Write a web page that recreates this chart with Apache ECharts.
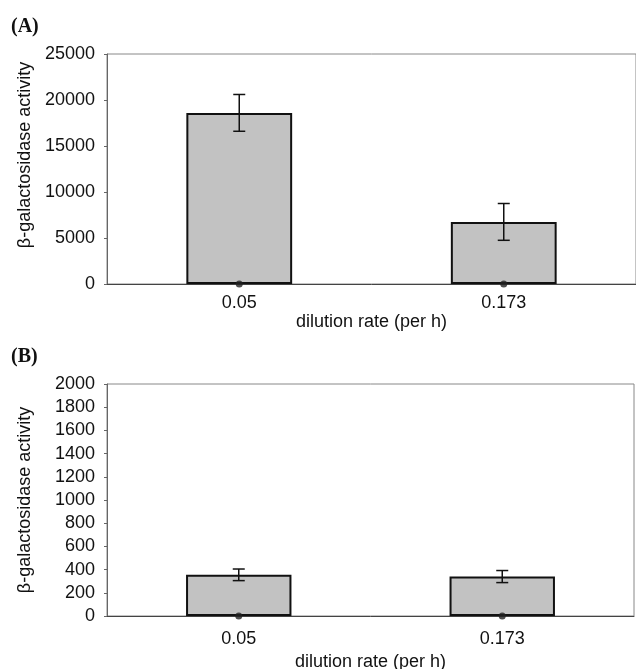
<!DOCTYPE html>
<html>
<head>
<meta charset="utf-8">
<script src="https://cdn.jsdelivr.net/npm/echarts@6/dist/echarts.min.js"></script>
<style>
  html, body { margin: 0; padding: 0; background: #fff; }
  #main { width: 636px; height: 669px; }
</style>
</head>
<body>
<div id="main"></div>
<script>
// dilution rates (per h)
var categories = ['0.05', '0.173'];
// panel A
var valuesA = [18600, 6750];
var errorsA = [2000, 2000];
// panel B
var valuesB = [355, 340];
var errorsB = [50, 52];
var zeroBase = [0, 0];

var chart = echarts.init(document.getElementById('main'));
var font = 'Liberation Sans, Arial, sans-serif';
var serif = 'Liberation Serif, Times New Roman, serif';

// 误差棒
function errorBar(values, errors) {
    return function (params, api) {
        var i = api.value(0);
        var v = values[i], e = errors[i];
        var top = api.coord([i, v + e]);
        var bot = api.coord([i, v - e]);
        var w = 6;
        var st = { stroke: '#111', lineWidth: 1.5 };
        return {
            type: 'group',
            children: [
                { type: 'line', shape: { x1: top[0], y1: top[1], x2: bot[0], y2: bot[1] }, style: st },
                { type: 'line', shape: { x1: top[0] - w, y1: top[1], x2: top[0] + w, y2: top[1] }, style: st },
                { type: 'line', shape: { x1: bot[0] - w, y1: bot[1], x2: bot[0] + w, y2: bot[1] }, style: st }
            ]
        };
    };
}

function xAxis(idx, labelMargin, nameGap) {
    return {
        type: 'category', gridIndex: idx, data: categories,
        name: 'dilution rate (per h)', nameLocation: 'middle', nameGap: nameGap,
        nameTextStyle: { fontFamily: font, fontSize: 18, color: '#111' },
        axisLine: { lineStyle: { color: '#444', width: 1 } },
        axisTick: { show: false },
        axisLabel: { fontFamily: font, fontSize: 18, color: '#111', margin: labelMargin }
    };
}
function yAxis(idx, max, interval, namePad) {
    return {
        type: 'value', gridIndex: idx, min: 0, max: max, interval: interval,
        name: 'β-galactosidase activity', nameLocation: 'middle', nameGap: 73,
        nameTextStyle: { fontFamily: font, fontSize: 18, color: '#111', padding: namePad },
        axisLine: { show: true, lineStyle: { color: '#666', width: 1 } },
        axisTick: { show: true, length: 3, lineStyle: { color: '#666' } },
        splitLine: { show: false },
        axisLabel: { fontFamily: font, fontSize: 18, color: '#111', margin: 12,
            formatter: function (v) { return String(v); } }
    };
}

var barStyle = { color: '#c2c2c2', borderColor: '#111', borderWidth: 2 };

chart.setOption({
    backgroundColor: '#fff',
    animation: false,
    title: [
        { text: '(A)', left: 6, top: 12, textStyle: { fontFamily: serif, fontSize: 20, fontWeight: 'bold', color: '#111' } },
        { text: '(B)', left: 6, top: 342, textStyle: { fontFamily: serif, fontSize: 20, fontWeight: 'bold', color: '#111' } }
    ],
    grid: [
        { left: 107, right: 0, top: 54, height: 230, show: true, borderColor: '#888', borderWidth: 1, outerBoundsMode: 'none' },
        { left: 107, right: 2, top: 384, height: 232, show: true, borderColor: '#888', borderWidth: 1, outerBoundsMode: 'none' }
    ],
    xAxis: [xAxis(0, 10, 24), xAxis(1, 14, 37)],
    yAxis: [yAxis(0, 25000, 5000, [0, 0, 0, 28]), yAxis(1, 2000, 200, 0)],
    series: [
        { type: 'bar', xAxisIndex: 0, yAxisIndex: 0, data: valuesA, barWidth: '40%', itemStyle: barStyle },
        { type: 'custom', xAxisIndex: 0, yAxisIndex: 0, renderItem: errorBar(valuesA, errorsA), data: [[0], [1]], z: 5 },
        { type: 'scatter', xAxisIndex: 0, yAxisIndex: 0, data: zeroBase, symbolSize: 7, itemStyle: { color: '#222' }, z: 6 },
        { type: 'bar', xAxisIndex: 1, yAxisIndex: 1, data: valuesB, barWidth: '40%', itemStyle: barStyle },
        { type: 'custom', xAxisIndex: 1, yAxisIndex: 1, renderItem: errorBar(valuesB, errorsB), data: [[0], [1]], z: 5 },
        { type: 'scatter', xAxisIndex: 1, yAxisIndex: 1, data: zeroBase, symbolSize: 7, itemStyle: { color: '#222' }, z: 6 }
    ]
});
</script>
</body>
</html>
